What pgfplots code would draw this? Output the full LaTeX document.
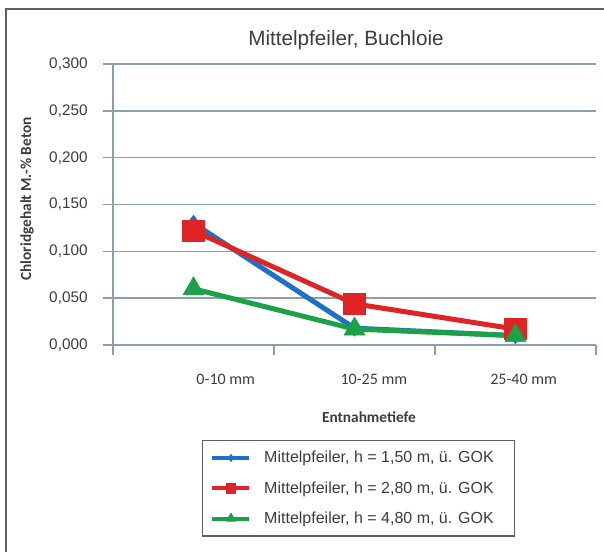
\documentclass[border=0pt]{standalone}
\usepackage{pgfplots}
\pgfplotsset{compat=1.18}
\usepackage{fontspec}
\setmainfont{Liberation Sans}
\newfontfamily\calibri{Carlito}
\definecolor{gridc}{RGB}{138,160,176}
\definecolor{framec}{RGB}{95,95,95}
\definecolor{textc}{RGB}{60,60,60}
\definecolor{sblue}{RGB}{30,112,200}
\definecolor{sred}{RGB}{222,36,36}
\definecolor{sgreen}{RGB}{28,160,72}
\begin{document}
\begin{tikzpicture}
\useasboundingbox (0pt,0pt) rectangle (453pt,-413.25pt);
\draw[framec, line width=1.5pt] (4.5pt,-6.75pt) rectangle (470pt,-430pt);
\node[font=\fontsize{15.5}{18}\selectfont, text=textc] at (259.5pt,-30pt) {Mittelpfeiler, Buchloie};
\begin{axis}[
  at={(84.75pt,-258.75pt)}, anchor=south west,
  scale only axis, width=362.25pt, height=210.75pt,
  xmin=-0.5, xmax=2.5, ymin=0, ymax=0.3,
  clip=false,
  axis x line*=bottom, axis y line*=left,
  axis line style={gridc, line width=1.2pt, -},
  ytick={0,0.05,0.1,0.15,0.2,0.25,0.3},
  ymajorgrids,
  grid style={gridc, line width=1.2pt},
  tick align=outside,
  major tick length=7.5pt,
  tick style={gridc, line width=1.2pt},
  xtick={-0.5,0.5,1.5,2.5},
  xticklabels={,,,},
  extra x ticks={0.2,1.12,2.05},
  extra x tick labels={0-10 mm,10-25 mm,25-40 mm},
  extra x tick style={major tick length=0pt, grid=none},
  xticklabel style={font=\calibri\fontsize{12}{14}\selectfont, text=textc, yshift=-18pt},
  yticklabel style={font=\fontsize{11.5}{14}\selectfont, text=textc, xshift=-8pt},
  y tick label style={/pgf/number format/.cd, fixed, fixed zerofill, precision=3, use comma, assume math mode=true},
  xlabel={Entnahmetiefe},
  ylabel={Chloridgehalt M.-\% Beton},
  xlabel style={font=\calibri\bfseries\fontsize{11.5}{14}\selectfont, text=textc,
    at={(axis description cs:0.53,-0.255)}, anchor=center},
  ylabel style={font=\calibri\bfseries\fontsize{11.5}{14}\selectfont, text=textc,
    at={(axis description cs:-0.178,0.52)}, anchor=center},
  legend style={at={(0.184,-0.338)}, anchor=north west, draw=framec, line width=0.8pt,
    font=\fontsize{12}{14}\selectfont, text=textc, row sep=8.5pt,
    inner xsep=6pt, inner ysep=6pt},
  legend cell align=left,
  legend image code/.code={\draw[line width=3pt, mark repeat=2, mark phase=2, every mark/.append style={scale=0.45}]
    plot coordinates {(0pt,0pt) (13.9pt,0pt) (27.75pt,0pt)};
    \path (35pt,0pt);},
]
\addplot[sblue, line width=3.75pt, line join=round, mark=diamond*, mark size=6pt, mark options={fill=sblue, draw=sblue, line width=0.5pt}]
  coordinates {(0,0.130) (1,0.018) (2,0.010)};
\addlegendentry{Mittelpfeiler, h = 1,50 m, ü. GOK\hspace*{7.5pt}}
\addplot[sred, line width=3.75pt, line join=round, mark=square*, mark size=8pt, mark options={fill=sred, draw=sred, line width=0.5pt}]
  coordinates {(0,0.122) (1,0.044) (2,0.017)};
\addlegendentry{Mittelpfeiler, h = 2,80 m, ü. GOK\hspace*{7.5pt}}
\addplot[sgreen, line width=3.75pt, line join=round, mark=triangle*, mark size=9pt, mark options={fill=sgreen, draw=sgreen, line width=0.5pt}]
  coordinates {(0,0.060) (1,0.017) (2,0.010)};
\addlegendentry{Mittelpfeiler, h = 4,80 m, ü. GOK\hspace*{7.5pt}}
\end{axis}
\end{tikzpicture}
\end{document}
